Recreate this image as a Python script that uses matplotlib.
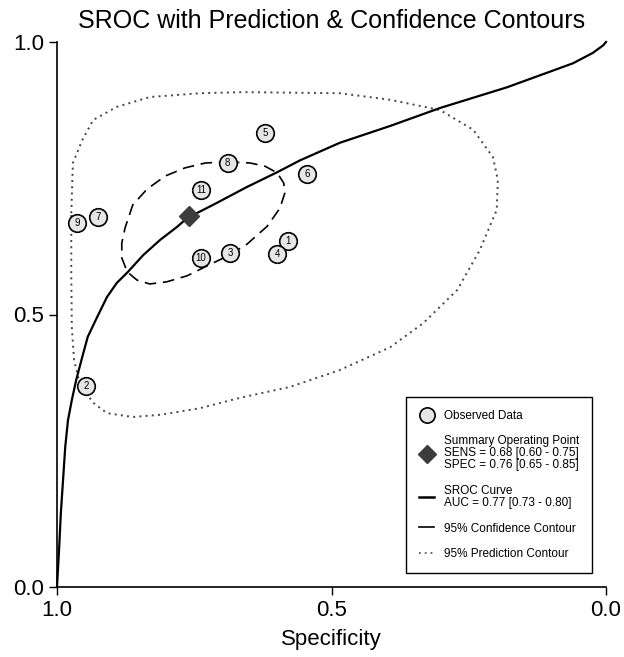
import matplotlib.pyplot as plt
from matplotlib.lines import Line2D

plt.rcParams['font.family'] = ['Liberation Sans', 'DejaVu Sans']

# observed studies (specificity, sensitivity)
study_id = [1, 2, 3, 4, 5, 6, 7, 8, 9, 10, 11]
study_spec = [0.579, 0.947, 0.685, 0.599, 0.621, 0.545, 0.925, 0.689, 0.964, 0.738, 0.738]
study_sens = [0.635, 0.369, 0.613, 0.611, 0.833, 0.758, 0.679, 0.778, 0.668, 0.604, 0.728]

# summary operating point
summ_spec = 0.76
summ_sens = 0.68

# SROC curve
sroc_spec = [1.0, 0.996, 0.993, 0.989, 0.985, 0.980, 0.973, 0.965, 0.954, 0.944,
             0.927, 0.909, 0.891, 0.871, 0.843, 0.812, 0.781, 0.763, 0.716, 0.654,
             0.599, 0.557, 0.485, 0.393, 0.302, 0.180, 0.060, 0.024, 0.005, 0.0]
sroc_sens = [0.0, 0.073, 0.136, 0.196, 0.257, 0.306, 0.343, 0.380, 0.422, 0.459,
             0.495, 0.532, 0.558, 0.578, 0.609, 0.637, 0.661, 0.677, 0.701, 0.734,
             0.761, 0.783, 0.815, 0.846, 0.879, 0.917, 0.961, 0.980, 0.994, 1.0]

# 95% confidence contour
conf_spec = [0.689, 0.648, 0.621, 0.599, 0.587, 0.585, 0.594, 0.617, 0.654, 0.690,
             0.727, 0.763, 0.800, 0.831, 0.854, 0.872, 0.882, 0.882, 0.876, 0.862,
             0.836, 0.803, 0.767, 0.730, 0.689]
conf_sens = [0.780, 0.778, 0.772, 0.760, 0.741, 0.723, 0.695, 0.662, 0.629, 0.607,
             0.589, 0.571, 0.560, 0.556, 0.563, 0.578, 0.604, 0.631, 0.659, 0.701,
             0.730, 0.754, 0.769, 0.778, 0.780]

# 95% prediction contour
pred_spec = [0.974, 0.971, 0.954, 0.934, 0.891, 0.831, 0.740, 0.661, 0.485, 0.393,
             0.302, 0.242, 0.206, 0.197, 0.199, 0.230, 0.271, 0.333, 0.393, 0.485,
             0.576, 0.667, 0.740, 0.812, 0.862, 0.909, 0.934, 0.958, 0.969, 0.973,
             0.974, 0.974]
pred_sens = [0.686, 0.778, 0.820, 0.857, 0.881, 0.899, 0.906, 0.908, 0.906, 0.894,
             0.875, 0.839, 0.789, 0.747, 0.692, 0.618, 0.545, 0.484, 0.440, 0.398,
             0.367, 0.347, 0.328, 0.316, 0.312, 0.319, 0.338, 0.371, 0.417, 0.477,
             0.576, 0.686]

fig = plt.figure(figsize=(6.24, 6.57), dpi=100)
ax = fig.add_axes([57 / 624, 70 / 657, 549 / 624, 545 / 657])

ax.plot(pred_spec, pred_sens, color='#444444', lw=1.4, linestyle=(0, (1, 2.2)), zorder=2)
ax.plot(conf_spec, conf_sens, color='black', lw=1.2, dashes=(7, 4), zorder=2)
ax.plot(sroc_spec, sroc_sens, color='black', lw=1.6, zorder=3, clip_on=False)

ax.scatter(study_spec, study_sens, s=160, facecolor='#e6e6e6', edgecolor='black',
           linewidth=1.2, zorder=4)
for i, x, y in zip(study_id, study_spec, study_sens):
    ax.text(x, y, str(i), ha='center', va='center', fontsize=7, zorder=5)

ax.plot(summ_spec, summ_sens, marker='D', ms=10, color='#3c3c3c', zorder=5)

ax.set_xlim(1, 0)
ax.set_ylim(0, 1)
ax.set_xticks([1.0, 0.5, 0.0])
ax.set_yticks([0.0, 0.5, 1.0])
ax.set_xticklabels(['1.0', '0.5', '0.0'])
ax.set_yticklabels(['0.0', '0.5', '1.0'])
ax.tick_params(direction='out', length=6, width=1, labelsize=16, pad=3)
for s in ['top', 'right']:
    ax.spines[s].set_visible(False)
for s in ['left', 'bottom']:
    ax.spines[s].set_linewidth(1.2)

ax.set_xlabel('Specificity', fontsize=16, labelpad=6)
ax.set_title('SROC with Prediction & Confidence Contours', fontsize=18, pad=10)

handles = [
    Line2D([], [], ls='none', marker='o', ms=11, mfc='#e6e6e6', mec='black', mew=1.2),
    Line2D([], [], ls='none', marker='D', ms=9, color='#3c3c3c'),
    Line2D([], [], color='black', lw=1.8),
    Line2D([], [], color='black', lw=1.2),
    Line2D([], [], color='#444444', lw=1.2, linestyle=(0, (1, 2.5))),
]
labels = [
    'Observed Data',
    'Summary Operating Point\nSENS = 0.68 [0.60 - 0.75]\nSPEC = 0.76 [0.65 - 0.85]',
    'SROC Curve\nAUC = 0.77 [0.73 - 0.80]',
    '95% Confidence Contour',
    '95% Prediction Contour',
]
leg = ax.legend(handles, labels, loc='lower right', bbox_to_anchor=(0.9854, 0.0147),
                fontsize=8.5, handlelength=1.3, labelspacing=1.15, handletextpad=0.8,
                borderpad=1.1, fancybox=False, edgecolor='black', framealpha=1)
leg.get_frame().set_linewidth(1.0)
for t in leg.get_texts():
    t.set_linespacing(1.0)

fig.savefig('out.png', dpi=100)
